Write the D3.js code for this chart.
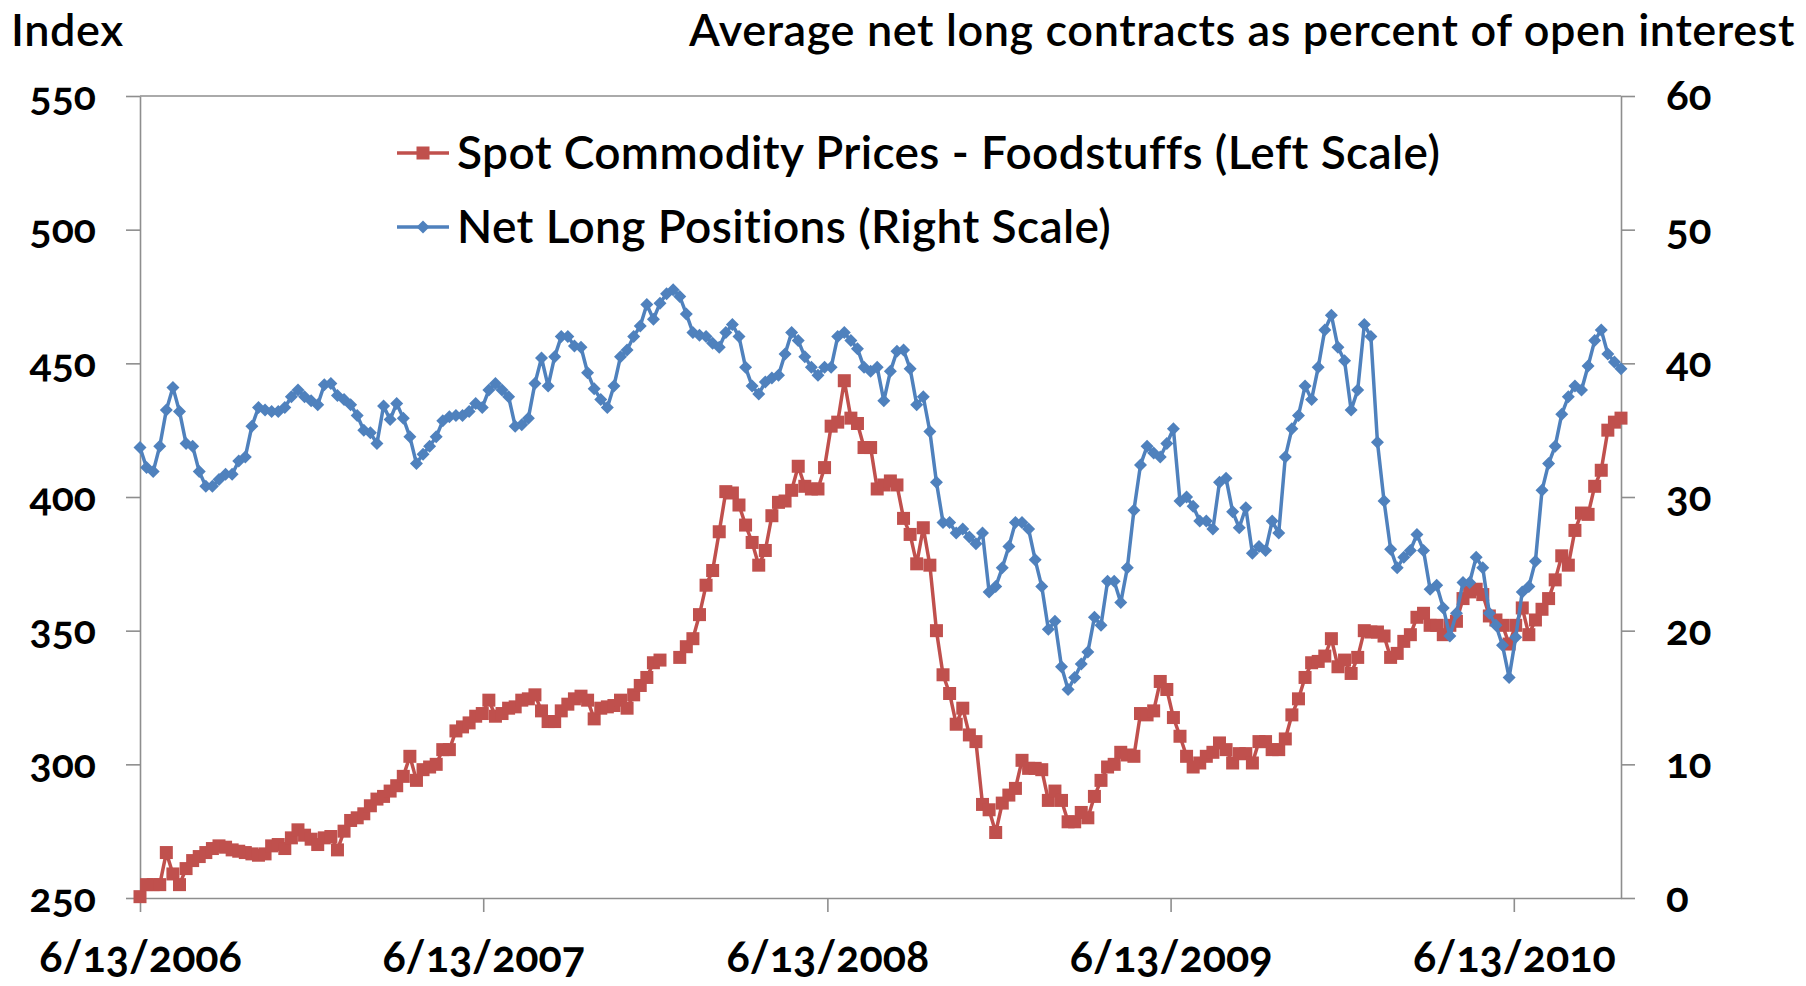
<!DOCTYPE html>
<html>
<head>
<meta charset="utf-8">
<script src="https://cdn.jsdelivr.net/npm/d3@7"></script>
<style>
body { margin: 0; background: #fff; }
text { font-family: Lato, "Open Sans", sans-serif; font-variant-numeric: oldstyle-nums; }
</style>
</head>
<body>
<div class="chart-container"></div>
<script>
// weekly observations (Tuesdays) starting 6/13/2006
const startDate = '2006-06-13'

// Spot Commodity Prices - Foodstuffs, index (left scale); null = no data that week
const foodstuffs = [
    250.5, 255, 255, 255, 267, 259, 255, 261, 264, 265.5,
    267, 268.5, 269.5, 269, 268, 267.5, 267, 266.5, 266, 266.5,
    269.5, 270, 268.5, 272.5, 275.5, 273.5, 272, 270, 272.5, 273,
    268, 275, 279, 280, 281.5, 284.5, 287, 288, 290, 292,
    295.5, 303, 294, 298, 299, 300, 305.5, 305.5, 312.5, 314,
    315.5, 318, 319, 324, 318, 319, 321, 321.5, 324, 324.5,
    326, 320, 316, 316, 320, 322.5, 324.5, 325.5, 324, 317,
    321, 321.5, 322, 324, 321, 326, 329.5, 332.5, 338, 339,
    null, null, 340, 344, 347, 356, 367, 372.5, 387, 402,
    401.5, 397, 389.5, 383, 374.5, 380, 393, 398, 398.5, 402.5,
    411.5, 404, 403, 403, 411, 426.5, 428, 443.5, 429.5, 427.5,
    418.5, 418.5, 403, 404.5, 406, 404.5, 392, 386, 375, 388.5,
    374.5, 350, 333.5, 326.5, 315, 321, 311, 308.5, 285, 283,
    274.5, 285.5, 288.5, 291, 301.5, 298.5, 298.5, 298, 286.5, 290,
    286.5, 278.5, 278.5, 282, 280, 288, 294, 299, 300, 304.5,
    303.5, 303, 319, 318.5, 320, 331, 328, 317.5, 310.5, 303,
    299, 300.5, 303, 304.5, 308, 305.5, 300.5, 304, 304, 300.5,
    308.5, 308.5, 305.5, 305.5, 309.5, 318.5, 324.5, 332.5, 338, 338.5,
    340.5, 347, 336.5, 339, 334, 340, 350, 349.5, 349.5, 348,
    340, 341.5, 346, 348.5, 355, 356.5, 352, 352, 348.5, 352,
    353.5, 362, 364.5, 365.5, 363.5, 355.5, 354, 352, 345, 352,
    358.5, 348.5, 354, 358, 362, 369, 378, 374.5, 387.5, 394,
    393.5, 404, 410, 425, 428, 429.5
]

// Net long positions, percent of open interest (right scale)
const netLong = [
    33.7, 32.2, 31.9, 33.8, 36.5, 38.2, 36.4, 34.0, 33.8, 31.9,
    30.8, 30.8, 31.3, 31.7, 31.7, 32.7, 33.0, 35.3, 36.7, 36.5,
    36.4, 36.4, 36.7, 37.5, 38.0, 37.5, 37.2, 36.9, 38.4, 38.5,
    37.6, 37.3, 36.9, 36.1, 35.0, 34.8, 34.0, 36.8, 35.8, 37.0,
    35.9, 34.5, 32.5, 33.2, 33.8, 34.5, 35.7, 36.0, 36.1, 36.1,
    36.4, 37.0, 36.7, 38.0, 38.5, 38.0, 37.5, 35.3, 35.4, 35.9,
    38.5, 40.4, 38.3, 40.5, 42.0, 42.0, 41.3, 41.2, 39.3, 38.1,
    37.3, 36.7, 38.3, 40.5, 41.0, 42.0, 42.8, 44.4, 43.3, 44.5,
    45.2, 45.5, 45.0, 43.7, 42.3, 42.1, 42.0, 41.5, 41.2, 42.3,
    42.9, 42.0, 39.7, 38.3, 37.7, 38.6, 38.9, 39.1, 40.7, 42.3,
    41.7, 40.5, 39.7, 39.1, 39.7, 39.7, 42.0, 42.3, 41.7, 41.1,
    39.7, 39.4, 39.7, 37.2, 39.4, 40.9, 41.0, 39.6, 36.9, 37.5,
    34.9, 31.1, 28.1, 28.1, 27.3, 27.6, 27.0, 26.5, 27.3, 22.9,
    23.3, 24.7, 26.3, 28.1, 28.1, 27.6, 25.3, 23.3, 20.1, 20.7,
    17.3, 15.6, 16.5, 17.5, 18.4, 21.0, 20.4, 23.7, 23.7, 22.1,
    24.7, 29.0, 32.4, 33.8, 33.3, 33.0, 34.0, 35.1, 29.7, 30.0,
    29.3, 28.2, 28.2, 27.6, 31.1, 31.4, 28.9, 27.7, 29.2, 25.8,
    26.3, 26.0, 28.2, 27.3, 33.0, 35.1, 36.1, 38.3, 37.3, 39.7,
    42.5, 43.6, 41.2, 40.2, 36.5, 38.0, 42.9, 42.0, 34.1, 29.7,
    26.1, 24.7, 25.5, 26.0, 27.2, 26.0, 23.1, 23.4, 21.7, 19.6,
    21.3, 23.6, 23.6, 25.5, 24.7, 21.3, 20.4, 18.9, 16.5, 19.5,
    22.9, 23.3, 25.2, 30.5, 32.5, 33.8, 36.2, 37.5, 38.3, 38.0,
    39.8, 41.7, 42.5, 40.7, 40.1, 39.6
]

const leftTicks = [250, 300, 350, 400, 450, 500, 550]
const rightTicks = [0, 10, 20, 30, 40, 50, 60]
const dateTicks = ['2006-06-13', '2007-06-13', '2008-06-13', '2009-06-13', '2010-06-13']

const leftTitle = 'Index'
const rightTitle = 'Average net long contracts as percent of open interest'
const legendLabels = ['Spot Commodity Prices - Foodstuffs (Left Scale)', 'Net Long Positions (Right Scale)']

let dimensions = {
    width: 1806,
    height: 986,
    margin: {
        top: 96,
        bottom: 88,
        left: 140,
        right: 185
    }
}

const red = '#C0504D'
const blue = '#4F81BD'
const axisColor = '#8e8e8e'

const svg = d3.select('.chart-container')
    .append('svg')
    .attr('width', dimensions.width)
    .attr('height', dimensions.height)

const parseDate = d3.utcParse('%Y-%m-%d')
const start = parseDate(startDate)
const dates = foodstuffs.map((d, i) => d3.utcDay.offset(start, 7 * i))

const data = dates.map((d, i) => ({ date: d, food: foodstuffs[i], net: netLong[i] }))

const container = svg.append('g')
    .attr('transform', `translate(${dimensions.margin.left},${dimensions.margin.top})`)

const containerWidth = dimensions.width - dimensions.margin.left - dimensions.margin.right
const containerHeight = dimensions.height - dimensions.margin.top - dimensions.margin.bottom

const xScale = d3.scaleUtc()
    .domain([start, dates[dates.length - 1]])
    .range([0, containerWidth])

const yLeft = d3.scaleLinear()
    .domain([250, 550])
    .range([containerHeight, 0])

const yRight = d3.scaleLinear()
    .domain([0, 60])
    .range([containerHeight, 0])

function styleAxis(g, size) {
    g.attr('font-family', null)
    g.select('.domain').attr('stroke', axisColor).attr('stroke-width', 1.6)
    g.selectAll('.tick line').attr('stroke', axisColor).attr('stroke-width', 1.6)
    g.selectAll('.tick text')
        .attr('fill', '#000')
        .attr('font-size', size)
        .attr('font-weight', 'bold')
}

// top border
container.append('line')
    .attr('x1', 0)
    .attr('x2', containerWidth)
    .attr('y1', 0)
    .attr('y2', 0)
    .attr('stroke', axisColor)
    .attr('stroke-width', 1.6)

// Left axis
container.append('g')
    .call(d3.axisLeft(yLeft).tickValues(leftTicks).tickSize(14).tickPadding(30).tickSizeOuter(0))
    .call(styleAxis, '41px')

// Right axis
container.append('g')
    .attr('transform', `translate(${containerWidth},0)`)
    .call(d3.axisRight(yRight).tickValues(rightTicks).tickSize(14).tickPadding(31).tickSizeOuter(0))
    .call(styleAxis, '42px')

// Bottom axis
const xAxisGroup = container.append('g')
    .attr('transform', `translate(0,${containerHeight})`)
    .call(d3.axisBottom(xScale)
        .tickValues(dateTicks.map(parseDate))
        .tickFormat(d3.utcFormat('%-m/%-d/%Y'))
        .tickSize(14)
        .tickSizeOuter(0))
    .call(styleAxis, '43px')

xAxisGroup.selectAll('.tick text')
    .attr('y', 43)
    .attr('dy', '0.71em')

// Lines
const foodLine = d3.line()
    .defined(d => d.food != null)
    .x(d => xScale(d.date))
    .y(d => yLeft(d.food))

const netLine = d3.line()
    .defined(d => d.net != null)
    .x(d => xScale(d.date))
    .y(d => yRight(d.net))

container.append('path')
    .datum(data)
    .attr('fill', 'none')
    .attr('stroke', red)
    .attr('stroke-width', 3.5)
    .attr('stroke-linejoin', 'round')
    .attr('d', foodLine)

container.selectAll('.food-marker')
    .data(data.filter(d => d.food != null))
    .join('rect')
    .attr('class', 'food-marker')
    .attr('x', d => xScale(d.date) - 6.5)
    .attr('y', d => yLeft(d.food) - 6.5)
    .attr('width', 13)
    .attr('height', 13)
    .attr('fill', red)

container.append('path')
    .datum(data)
    .attr('fill', 'none')
    .attr('stroke', blue)
    .attr('stroke-width', 3.5)
    .attr('stroke-linejoin', 'round')
    .attr('d', netLine)

const diamond = 'M0,-6.5 L6.5,0 L0,6.5 L-6.5,0 Z'

container.selectAll('.net-marker')
    .data(data.filter(d => d.net != null))
    .join('path')
    .attr('class', 'net-marker')
    .attr('d', diamond)
    .attr('transform', d => `translate(${xScale(d.date)},${yRight(d.net)})`)
    .attr('fill', blue)

// Legend
const legend = svg.append('g')
    .attr('transform', 'translate(397,153)')

legendLabels.forEach((label, i) => {
    const row = legend.append('g').attr('transform', `translate(0,${i * 74})`)
    const color = i === 0 ? red : blue
    row.append('line')
        .attr('x1', 0)
        .attr('x2', 52)
        .attr('stroke', color)
        .attr('stroke-width', 3.5)
    if (i === 0) {
        row.append('rect')
            .attr('x', 19.5).attr('y', -6.5)
            .attr('width', 13).attr('height', 13)
            .attr('fill', color)
    } else {
        row.append('path')
            .attr('d', diamond)
            .attr('transform', 'translate(26,0)')
            .attr('fill', color)
    }
    row.append('text')
        .attr('x', 60)
        .attr('y', 0)
        .attr('dy', '0.35em')
        .attr('font-size', '46px')
        .attr('font-weight', 600)
        .attr('letter-spacing', '0.4px')
        .text(label)
})

// Titles
svg.append('text')
    .attr('x', 11)
    .attr('y', 45.5)
    .attr('font-size', '45px')
    .attr('font-weight', 600)
    .attr('letter-spacing', '0.6px')
    .text(leftTitle)

svg.append('text')
    .attr('x', 1795)
    .attr('y', 45.5)
    .attr('font-size', '45px')
    .attr('font-weight', 600)
    .attr('letter-spacing', '0.6px')
    .attr('text-anchor', 'end')
    .text(rightTitle)
</script>
</body>
</html>
